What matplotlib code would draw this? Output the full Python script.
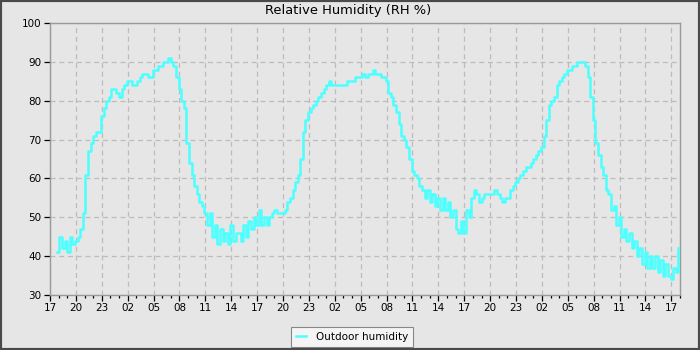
import numpy as np
import matplotlib
matplotlib.use("Agg")
import matplotlib.pyplot as plt
from matplotlib.ticker import MultipleLocator, FixedLocator
from matplotlib.patches import Rectangle

# ---- data ----
start_hour = 0.8      # hours after the first "17" tick
step_hours = 0.3
humidity = [
    41, 45, 42, 44, 41, 45, 43, 44, 45, 47,
    51, 61, 67, 69, 71, 72, 72, 76, 78, 80,
    81, 83, 83, 82, 81, 83, 84, 85, 85, 84,
    84, 85, 86, 87, 87, 86, 86, 88, 88, 89,
    89, 90, 90, 91, 90, 89, 86, 83, 80, 78,
    69, 64, 61, 58, 56, 54, 53, 51, 48, 51,
    45, 48, 43, 47, 44, 46, 43, 48, 44, 46,
    46, 44, 48, 45, 49, 47, 50, 48, 52, 48,
    50, 48, 50, 51, 52, 51, 51, 51, 52, 54,
    55, 57, 59, 61, 65, 72, 75, 77, 78, 79,
    80, 81, 82, 83, 84, 85, 84, 84, 84, 84,
    84, 84, 85, 85, 85, 86, 86, 86, 87, 86,
    87, 87, 88, 87, 87, 86, 86, 85, 82, 81,
    79, 77, 74, 71, 70, 68, 65, 62, 61, 60,
    58, 57, 55, 57, 54, 56, 53, 55, 52, 55,
    52, 54, 50, 52, 47, 46, 49, 46, 52, 50,
    55, 57, 56, 54, 55, 56, 56, 56, 56, 57,
    56, 55, 54, 55, 55, 57, 58, 59, 60, 61,
    62, 63, 63, 64, 65, 66, 67, 68, 71, 75,
    79, 80, 81, 84, 85, 86, 87, 88, 88, 89,
    89, 90, 90, 90, 89, 86, 81, 75, 69, 66,
    63, 61, 57, 56, 52, 53, 48, 50, 45, 47,
    44, 46, 42, 44, 40, 42, 38, 41, 37, 40,
    37, 40, 36, 39, 35, 38, 35, 34, 37, 36, 42,
]
hours = start_hour + step_hours * np.arange(len(humidity))
tick_labels = ["17", "20", "23", "02", "05", "08", "11", "14"] * 3 + ["17"]
tick_hours = np.arange(0, 73, 3)
title = "Relative Humidity (RH %)"
series_name = "Outdoor humidity"

# ---- figure ----
bg = "#e6e6e6"
fig = plt.figure(figsize=(7, 3.5), dpi=100, facecolor=bg)
fig.patches.append(Rectangle((0, 0), 1, 1, transform=fig.transFigure,
                             facecolor="none", edgecolor="#4a4a4a",
                             linewidth=3, zorder=10))
ax = fig.add_axes([50/700, 55/350, 630/700, 272/350])
ax.set_facecolor(bg)

ax.plot(hours, humidity, color="#4dffff", linewidth=1.8,
        drawstyle="steps-post", label=series_name, zorder=3)

ax.set_xlim(0, 73)
ax.set_ylim(30, 100)
ax.xaxis.set_major_locator(FixedLocator(tick_hours))
ax.set_xticklabels(tick_labels)
ax.xaxis.set_minor_locator(MultipleLocator(1))
ax.yaxis.set_major_locator(MultipleLocator(10))

ax.grid(True, which="major", color="#bcbcbc", linestyle=(0, (4, 3)),
        linewidth=0.9, zorder=1)
for s in ax.spines.values():
    s.set_color("#999999")
    s.set_linewidth(1.0)

ax.tick_params(axis="both", which="major", direction="out", length=4,
               width=0.9, color="black", labelsize=7.5, pad=2)
ax.tick_params(axis="x", which="minor", direction="out", length=2.5,
               width=0.9, color="black")

fig.text(348/700, 1 - 10.5/350, title, fontsize=9.4, ha="center", va="center")

leg = fig.legend(loc="center", bbox_to_anchor=(352/700, 13/350),
                 fontsize=7.5, frameon=True, fancybox=False,
                 handlelength=1.0, handletextpad=0.9,
                 borderpad=0.5, borderaxespad=0)
leg.get_frame().set_facecolor("#f4f4f4")
leg.get_frame().set_edgecolor("#888888")
leg.get_frame().set_linewidth(0.8)
leg.get_frame().set_alpha(1)

fig.savefig("out.png", dpi=100, facecolor=bg)
